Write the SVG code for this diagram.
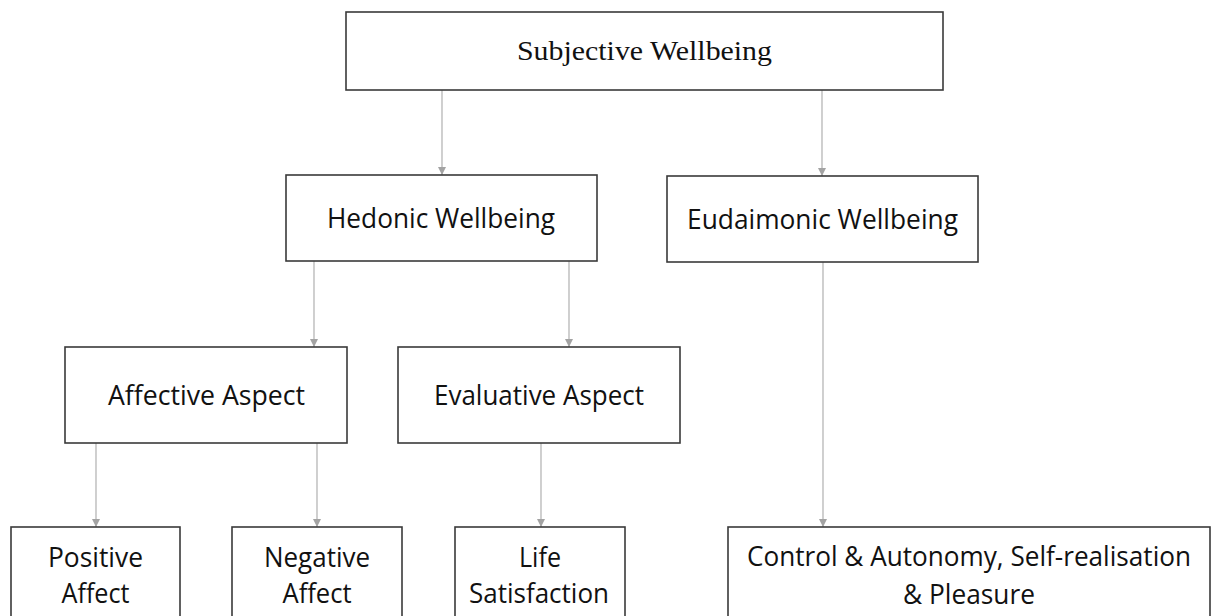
<svg xmlns="http://www.w3.org/2000/svg" width="1213" height="616" viewBox="0 0 1213 616">
  <defs>
    <style>
      .box { fill: #ffffff; stroke: #3a3a3a; stroke-width: 1.6; }
      .serif { font-family: "Liberation Serif", "Times New Roman", serif; font-size: 28px; fill: #111111; text-anchor: middle; }
      .sans { font-family: "Open Sans", "Noto Sans", sans-serif; font-size: 26.5px; fill: #111111; text-anchor: middle; }
      .link { stroke: #c4c4c4; stroke-width: 1.6; fill: none; marker-end: url(#arrow); }
    </style>
    <marker id="arrow" viewBox="0 0 10 10" refX="10" refY="5" markerWidth="8" markerHeight="9" markerUnits="userSpaceOnUse" orient="auto">
      <path d="M0,0 L10,5 L0,10 Z" fill="#a3a3a3"/>
    </marker>
  </defs>

  <rect width="1213" height="616" fill="#ffffff"/>

  <!-- connectors -->
  <g id="connectors">
    <line class="link" x1="442" y1="90" x2="442" y2="175"/>
    <line class="link" x1="822" y1="90" x2="822" y2="176"/>
    <line class="link" x1="314" y1="261" x2="314" y2="347"/>
    <line class="link" x1="569" y1="261" x2="569" y2="347"/>
    <line class="link" x1="96" y1="443" x2="96" y2="527"/>
    <line class="link" x1="317" y1="443" x2="317" y2="527"/>
    <line class="link" x1="541" y1="443" x2="541" y2="527"/>
    <line class="link" x1="823" y1="262" x2="823" y2="527"/>
  </g>

  <g id="subjective">
    <rect class="box" x="346" y="12" width="597" height="78"/>
    <text class="serif" x="644.5" y="60" textLength="255" lengthAdjust="spacingAndGlyphs">Subjective Wellbeing</text>
  </g>

  <g id="hedonic">
    <rect class="box" x="286" y="175" width="311" height="86"/>
    <text class="sans" x="441" y="228" textLength="228" lengthAdjust="spacingAndGlyphs">Hedonic Wellbeing</text>
  </g>

  <g id="eudaimonic">
    <rect class="box" x="667" y="176" width="311" height="86"/>
    <text class="sans" x="822.5" y="229" textLength="271" lengthAdjust="spacingAndGlyphs">Eudaimonic Wellbeing</text>
  </g>

  <g id="affective">
    <rect class="box" x="65" y="347" width="282" height="96"/>
    <text class="sans" x="206.5" y="405" textLength="197" lengthAdjust="spacingAndGlyphs">Affective Aspect</text>
  </g>

  <g id="evaluative">
    <rect class="box" x="398" y="347" width="282" height="96"/>
    <text class="sans" x="539" y="405" textLength="210" lengthAdjust="spacingAndGlyphs">Evaluative Aspect</text>
  </g>

  <g id="positive-affect">
    <rect class="box" x="11" y="527" width="169" height="100"/>
    <text class="sans" x="95.5" y="567" textLength="95" lengthAdjust="spacingAndGlyphs">Positive</text>
    <text class="sans" x="95.5" y="603" textLength="68" lengthAdjust="spacingAndGlyphs">Affect</text>
  </g>

  <g id="negative-affect">
    <rect class="box" x="232" y="527" width="170" height="100"/>
    <text class="sans" x="317" y="567" textLength="106" lengthAdjust="spacingAndGlyphs">Negative</text>
    <text class="sans" x="317" y="603" textLength="69" lengthAdjust="spacingAndGlyphs">Affect</text>
  </g>

  <g id="life-satisfaction">
    <rect class="box" x="455" y="527" width="170" height="100"/>
    <text class="sans" x="540" y="567" textLength="42" lengthAdjust="spacingAndGlyphs">Life</text>
    <text class="sans" x="539" y="603" textLength="140" lengthAdjust="spacingAndGlyphs">Satisfaction</text>
  </g>

  <g id="control-autonomy">
    <rect class="box" x="728" y="527" width="482" height="100"/>
    <text class="sans" x="969" y="566" textLength="444" lengthAdjust="spacingAndGlyphs">Control &amp; Autonomy, Self-realisation</text>
    <text class="sans" x="969" y="604" textLength="132" lengthAdjust="spacingAndGlyphs">&amp; Pleasure</text>
  </g>
</svg>
